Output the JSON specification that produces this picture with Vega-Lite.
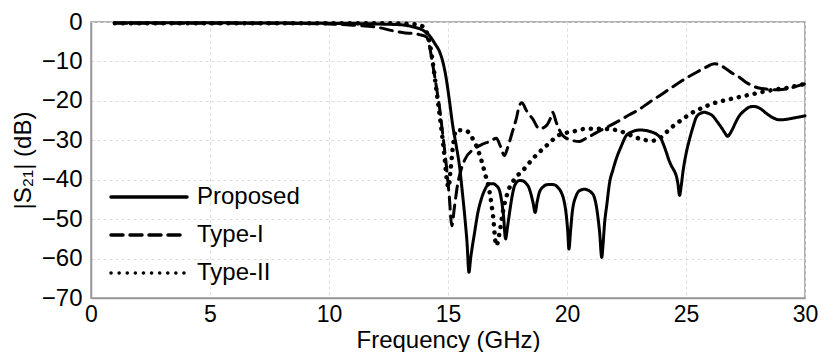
{
  "$schema": "https://vega.github.io/schema/vega-lite/v6.json",
  "autosize": {"type": "none"},
  "padding": {"left": 91, "top": 22, "right": 16, "bottom": 54},
  "width": 714,
  "height": 276,
  "background": "white",
  "config": {
    "font": "Liberation Sans",
    "view": {"stroke": "#999999", "strokeWidth": 1.5}
  },
  "data": {"values": [
{"s":"Proposed","f":1,"db":-0.2},{"s":"Proposed","f":3,"db":-0.2},{"s":"Proposed","f":5,"db":-0.2},{"s":"Proposed","f":7,"db":-0.25},{"s":"Proposed","f":9,"db":-0.3},{"s":"Proposed","f":10,"db":-0.35},{"s":"Proposed","f":11,"db":-0.4},{"s":"Proposed","f":12,"db":-0.5},{"s":"Proposed","f":13,"db":-0.7},{"s":"Proposed","f":13.5,"db":-1.2},{"s":"Proposed","f":14,"db":-2.3},{"s":"Proposed","f":14.23,"db":-3.5},{"s":"Proposed","f":14.45,"db":-5.5},{"s":"Proposed","f":14.65,"db":-7.6},{"s":"Proposed","f":14.8,"db":-10.5},{"s":"Proposed","f":14.93,"db":-14.5},{"s":"Proposed","f":15.05,"db":-19.5},{"s":"Proposed","f":15.2,"db":-26.3},{"s":"Proposed","f":15.35,"db":-31.5},{"s":"Proposed","f":15.48,"db":-36.4},{"s":"Proposed","f":15.6,"db":-43},{"s":"Proposed","f":15.7,"db":-49},{"s":"Proposed","f":15.8,"db":-56},{"s":"Proposed","f":15.88,"db":-63.5},{"s":"Proposed","f":15.95,"db":-60},{"s":"Proposed","f":16.12,"db":-53.3},{"s":"Proposed","f":16.25,"db":-48.5},{"s":"Proposed","f":16.4,"db":-44.9},{"s":"Proposed","f":16.55,"db":-42.5},{"s":"Proposed","f":16.75,"db":-41},{"s":"Proposed","f":16.9,"db":-41},{"s":"Proposed","f":17.03,"db":-41.5},{"s":"Proposed","f":17.15,"db":-42.5},{"s":"Proposed","f":17.24,"db":-44.9},{"s":"Proposed","f":17.33,"db":-49},{"s":"Proposed","f":17.42,"db":-55},{"s":"Proposed","f":17.5,"db":-52},{"s":"Proposed","f":17.59,"db":-48.2},{"s":"Proposed","f":17.7,"db":-44},{"s":"Proposed","f":17.8,"db":-41.5},{"s":"Proposed","f":18.0,"db":-40.2},{"s":"Proposed","f":18.15,"db":-40.3},{"s":"Proposed","f":18.29,"db":-41},{"s":"Proposed","f":18.4,"db":-42},{"s":"Proposed","f":18.5,"db":-44},{"s":"Proposed","f":18.58,"db":-46},{"s":"Proposed","f":18.66,"db":-48.3},{"s":"Proposed","f":18.75,"db":-45.5},{"s":"Proposed","f":18.84,"db":-43.2},{"s":"Proposed","f":19.0,"db":-41.8},{"s":"Proposed","f":19.13,"db":-41.3},{"s":"Proposed","f":19.3,"db":-41.2},{"s":"Proposed","f":19.47,"db":-41.3},{"s":"Proposed","f":19.62,"db":-42},{"s":"Proposed","f":19.75,"db":-43.1},{"s":"Proposed","f":19.88,"db":-45.5},{"s":"Proposed","f":19.97,"db":-49},{"s":"Proposed","f":20.03,"db":-53},{"s":"Proposed","f":20.08,"db":-57.6},{"s":"Proposed","f":20.15,"db":-53},{"s":"Proposed","f":20.22,"db":-48.3},{"s":"Proposed","f":20.39,"db":-44},{"s":"Proposed","f":20.55,"db":-42.7},{"s":"Proposed","f":20.74,"db":-42.4},{"s":"Proposed","f":20.9,"db":-42.7},{"s":"Proposed","f":21.02,"db":-43.2},{"s":"Proposed","f":21.15,"db":-44.5},{"s":"Proposed","f":21.23,"db":-46.6},{"s":"Proposed","f":21.3,"db":-49.5},{"s":"Proposed","f":21.37,"db":-53.3},{"s":"Proposed","f":21.46,"db":-59.7},{"s":"Proposed","f":21.52,"db":-56},{"s":"Proposed","f":21.57,"db":-51.7},{"s":"Proposed","f":21.68,"db":-46},{"s":"Proposed","f":21.79,"db":-40.7},{"s":"Proposed","f":21.93,"db":-37.5},{"s":"Proposed","f":22.07,"db":-34.7},{"s":"Proposed","f":22.28,"db":-31.5},{"s":"Proposed","f":22.49,"db":-28.8},{"s":"Proposed","f":22.75,"db":-27.8},{"s":"Proposed","f":23.05,"db":-27.4},{"s":"Proposed","f":23.3,"db":-27.5},{"s":"Proposed","f":23.6,"db":-28},{"s":"Proposed","f":23.8,"db":-28.6},{"s":"Proposed","f":23.96,"db":-29.7},{"s":"Proposed","f":24.05,"db":-31},{"s":"Proposed","f":24.17,"db":-33},{"s":"Proposed","f":24.28,"db":-35},{"s":"Proposed","f":24.38,"db":-36.4},{"s":"Proposed","f":24.5,"db":-37.7},{"s":"Proposed","f":24.59,"db":-39},{"s":"Proposed","f":24.66,"db":-41},{"s":"Proposed","f":24.73,"db":-44},{"s":"Proposed","f":24.8,"db":-41.5},{"s":"Proposed","f":24.87,"db":-38.1},{"s":"Proposed","f":25.0,"db":-33.5},{"s":"Proposed","f":25.15,"db":-29.7},{"s":"Proposed","f":25.3,"db":-26.5},{"s":"Proposed","f":25.43,"db":-24.2},{"s":"Proposed","f":25.6,"db":-23.2},{"s":"Proposed","f":25.78,"db":-22.9},{"s":"Proposed","f":25.95,"db":-23.2},{"s":"Proposed","f":26.12,"db":-23.8},{"s":"Proposed","f":26.3,"db":-25.2},{"s":"Proposed","f":26.48,"db":-26.7},{"s":"Proposed","f":26.62,"db":-28},{"s":"Proposed","f":26.75,"db":-29},{"s":"Proposed","f":26.85,"db":-28.3},{"s":"Proposed","f":26.96,"db":-27.1},{"s":"Proposed","f":27.1,"db":-25.3},{"s":"Proposed","f":27.24,"db":-23.8},{"s":"Proposed","f":27.45,"db":-22.5},{"s":"Proposed","f":27.66,"db":-21.6},{"s":"Proposed","f":27.85,"db":-21.4},{"s":"Proposed","f":28.0,"db":-21.6},{"s":"Proposed","f":28.2,"db":-22.3},{"s":"Proposed","f":28.36,"db":-23.1},{"s":"Proposed","f":28.6,"db":-24.1},{"s":"Proposed","f":28.92,"db":-24.8},{"s":"Proposed","f":29.2,"db":-24.7},{"s":"Proposed","f":29.48,"db":-24.4},{"s":"Proposed","f":29.75,"db":-24.1},{"s":"Proposed","f":30,"db":-23.8},
{"s":"Type-I","f":1,"db":-0.3},{"s":"Type-I","f":3,"db":-0.3},{"s":"Type-I","f":5,"db":-0.3},{"s":"Type-I","f":7,"db":-0.3},{"s":"Type-I","f":9,"db":-0.4},{"s":"Type-I","f":10,"db":-0.5},{"s":"Type-I","f":11,"db":-0.8},{"s":"Type-I","f":12,"db":-1.3},{"s":"Type-I","f":12.67,"db":-2.2},{"s":"Type-I","f":13.2,"db":-2.8},{"s":"Type-I","f":13.5,"db":-2.9},{"s":"Type-I","f":13.8,"db":-3.2},{"s":"Type-I","f":14.1,"db":-3.8},{"s":"Type-I","f":14.25,"db":-7},{"s":"Type-I","f":14.35,"db":-10.5},{"s":"Type-I","f":14.5,"db":-16},{"s":"Type-I","f":14.65,"db":-22},{"s":"Type-I","f":14.77,"db":-28},{"s":"Type-I","f":14.93,"db":-36.4},{"s":"Type-I","f":15.05,"db":-44},{"s":"Type-I","f":15.16,"db":-51.7},{"s":"Type-I","f":15.27,"db":-47},{"s":"Type-I","f":15.41,"db":-41},{"s":"Type-I","f":15.55,"db":-37.5},{"s":"Type-I","f":15.7,"db":-35},{"s":"Type-I","f":16.1,"db":-32.2},{"s":"Type-I","f":16.45,"db":-31},{"s":"Type-I","f":16.75,"db":-30.3},{"s":"Type-I","f":17.03,"db":-29.5},{"s":"Type-I","f":17.2,"db":-31.5},{"s":"Type-I","f":17.37,"db":-33.9},{"s":"Type-I","f":17.5,"db":-32},{"s":"Type-I","f":17.7,"db":-28},{"s":"Type-I","f":17.87,"db":-24.5},{"s":"Type-I","f":18.0,"db":-21.2},{"s":"Type-I","f":18.1,"db":-20.5},{"s":"Type-I","f":18.3,"db":-22.5},{"s":"Type-I","f":18.56,"db":-24.6},{"s":"Type-I","f":18.84,"db":-27.1},{"s":"Type-I","f":19.13,"db":-26.3},{"s":"Type-I","f":19.3,"db":-24.5},{"s":"Type-I","f":19.4,"db":-22.9},{"s":"Type-I","f":19.55,"db":-25.5},{"s":"Type-I","f":19.82,"db":-28.8},{"s":"Type-I","f":20.1,"db":-29.8},{"s":"Type-I","f":20.52,"db":-30.3},{"s":"Type-I","f":20.8,"db":-29.5},{"s":"Type-I","f":21.08,"db":-28.6},{"s":"Type-I","f":21.37,"db":-27.6},{"s":"Type-I","f":21.8,"db":-26.3},{"s":"Type-I","f":22.2,"db":-25},{"s":"Type-I","f":22.6,"db":-23.6},{"s":"Type-I","f":23.05,"db":-22.1},{"s":"Type-I","f":23.45,"db":-20.4},{"s":"Type-I","f":23.89,"db":-18.7},{"s":"Type-I","f":24.3,"db":-17},{"s":"Type-I","f":24.73,"db":-15.3},{"s":"Type-I","f":25.1,"db":-13.9},{"s":"Type-I","f":25.43,"db":-12.8},{"s":"Type-I","f":25.8,"db":-11.6},{"s":"Type-I","f":26.2,"db":-10.6},{"s":"Type-I","f":26.45,"db":-11},{"s":"Type-I","f":26.69,"db":-11.9},{"s":"Type-I","f":26.95,"db":-13},{"s":"Type-I","f":27.24,"db":-14},{"s":"Type-I","f":27.5,"db":-15.2},{"s":"Type-I","f":27.8,"db":-16.2},{"s":"Type-I","f":28.1,"db":-16.8},{"s":"Type-I","f":28.36,"db":-17},{"s":"Type-I","f":28.65,"db":-17.2},{"s":"Type-I","f":28.92,"db":-17.2},{"s":"Type-I","f":29.2,"db":-17},{"s":"Type-I","f":29.48,"db":-16.6},{"s":"Type-I","f":29.75,"db":-16.1},{"s":"Type-I","f":30,"db":-15.7},
{"s":"Type-II","f":1,"db":-0.3},{"s":"Type-II","f":3,"db":-0.3},{"s":"Type-II","f":5,"db":-0.3},{"s":"Type-II","f":7,"db":-0.3},{"s":"Type-II","f":9,"db":-0.3},{"s":"Type-II","f":11,"db":-0.3},{"s":"Type-II","f":12,"db":-0.3},{"s":"Type-II","f":13,"db":-0.4},{"s":"Type-II","f":13.5,"db":-0.5},{"s":"Type-II","f":13.9,"db":-1},{"s":"Type-II","f":14.1,"db":-2.5},{"s":"Type-II","f":14.25,"db":-6},{"s":"Type-II","f":14.4,"db":-12},{"s":"Type-II","f":14.55,"db":-19},{"s":"Type-II","f":14.7,"db":-26},{"s":"Type-II","f":14.85,"db":-34},{"s":"Type-II","f":14.95,"db":-40},{"s":"Type-II","f":15.02,"db":-42},{"s":"Type-II","f":15.1,"db":-38},{"s":"Type-II","f":15.2,"db":-32},{"s":"Type-II","f":15.35,"db":-27.4},{"s":"Type-II","f":15.77,"db":-27.6},{"s":"Type-II","f":16.0,"db":-29.2},{"s":"Type-II","f":16.19,"db":-31.4},{"s":"Type-II","f":16.4,"db":-35},{"s":"Type-II","f":16.54,"db":-38.1},{"s":"Type-II","f":16.75,"db":-43.2},{"s":"Type-II","f":16.89,"db":-49.1},{"s":"Type-II","f":17.03,"db":-56.7},{"s":"Type-II","f":17.17,"db":-53.3},{"s":"Type-II","f":17.3,"db":-48.3},{"s":"Type-II","f":17.51,"db":-43.2},{"s":"Type-II","f":17.8,"db":-39.8},{"s":"Type-II","f":18.14,"db":-37.7},{"s":"Type-II","f":18.56,"db":-34.7},{"s":"Type-II","f":19.13,"db":-31.4},{"s":"Type-II","f":19.69,"db":-28.6},{"s":"Type-II","f":20.24,"db":-27.8},{"s":"Type-II","f":20.8,"db":-27.1},{"s":"Type-II","f":21.37,"db":-27.1},{"s":"Type-II","f":21.8,"db":-27.2},{"s":"Type-II","f":22.2,"db":-27.6},{"s":"Type-II","f":22.55,"db":-28.4},{"s":"Type-II","f":22.9,"db":-29.3},{"s":"Type-II","f":23.25,"db":-29.9},{"s":"Type-II","f":23.6,"db":-30.1},{"s":"Type-II","f":23.9,"db":-29.5},{"s":"Type-II","f":24.17,"db":-28},{"s":"Type-II","f":24.5,"db":-26.2},{"s":"Type-II","f":24.87,"db":-24.6},{"s":"Type-II","f":25.2,"db":-23.2},{"s":"Type-II","f":25.57,"db":-22.1},{"s":"Type-II","f":25.9,"db":-21.2},{"s":"Type-II","f":26.27,"db":-20.4},{"s":"Type-II","f":26.6,"db":-19.9},{"s":"Type-II","f":26.96,"db":-19.4},{"s":"Type-II","f":27.4,"db":-18.8},{"s":"Type-II","f":27.8,"db":-18.3},{"s":"Type-II","f":28.15,"db":-17.8},{"s":"Type-II","f":28.5,"db":-17.4},{"s":"Type-II","f":28.9,"db":-17},{"s":"Type-II","f":29.34,"db":-16.6},{"s":"Type-II","f":29.7,"db":-16.1},{"s":"Type-II","f":30,"db":-15.7}
  ]},
  "encoding": {
    "x": {
      "field": "f", "type": "quantitative",
      "scale": {"domain": [0, 30], "nice": false, "zero": false},
      "axis": {
        "title": "Frequency (GHz)", "values": [0, 5, 10, 15, 20, 25, 30],
        "titleFontSize": 24, "titleFontWeight": "normal", "titleColor": "black", "titlePadding": 2,
        "labelFontSize": 23, "labelColor": "black", "labelPadding": 5, "labelFlush": false,
        "ticks": false, "domainColor": "#999999", "domainWidth": 1.5,
        "grid": true, "gridColor": "#dddddd", "gridDash": [3, 3], "gridWidth": 1
      }
    },
    "y": {
      "field": "db", "type": "quantitative",
      "scale": {"domain": [-70, 0], "nice": false, "zero": false},
      "axis": {
        "title": "|S₂₁| (dB)", "values": [0, -10, -20, -30, -40, -50, -60, -70],
        "titleFontSize": 24, "titleFontWeight": "normal", "titleColor": "black", "titlePadding": 6,
        "labelFontSize": 24, "labelColor": "black", "labelPadding": 9, "labelFlush": false,
        "ticks": false, "domainColor": "#999999", "domainWidth": 1.5,
        "grid": true, "gridColor": "#dddddd", "gridDash": [3, 3], "gridWidth": 1
      }
    },
    "strokeDash": {
      "field": "s", "type": "nominal",
      "scale": {"domain": ["Proposed", "Type-I", "Type-II"], "range": [[1, 0], [12, 7], [0.1, 8]]},
      "legend": {
        "title": null, "orient": "none", "legendX": 18, "legendY": 163,
        "symbolType": "stroke", "symbolSize": 5776, "symbolStrokeColor": "black", "symbolStrokeWidth": 3.5,
        "clipHeight": 24, "rowPadding": 14,
        "labelFontSize": 24, "labelColor": "black", "labelOffset": 8,
        "encode": {"symbols": {"update": {"strokeCap": {"value": "round"}}}}
      }
    }
  },
  "layer": [
    {"transform": [{"filter": "datum.s === 'Proposed'"}], "mark": {"type": "line", "color": "black", "strokeWidth": 3, "strokeCap": "round", "strokeJoin": "round", "interpolate": "monotone"}},
    {"transform": [{"filter": "datum.s === 'Type-I'"}], "mark": {"type": "line", "color": "black", "strokeWidth": 3, "strokeCap": "round", "strokeJoin": "round", "interpolate": "monotone"}},
    {"transform": [{"filter": "datum.s === 'Type-II'"}], "mark": {"type": "line", "color": "black", "strokeWidth": 4.5, "strokeCap": "round", "strokeJoin": "round", "interpolate": "monotone"}}
  ]
}
